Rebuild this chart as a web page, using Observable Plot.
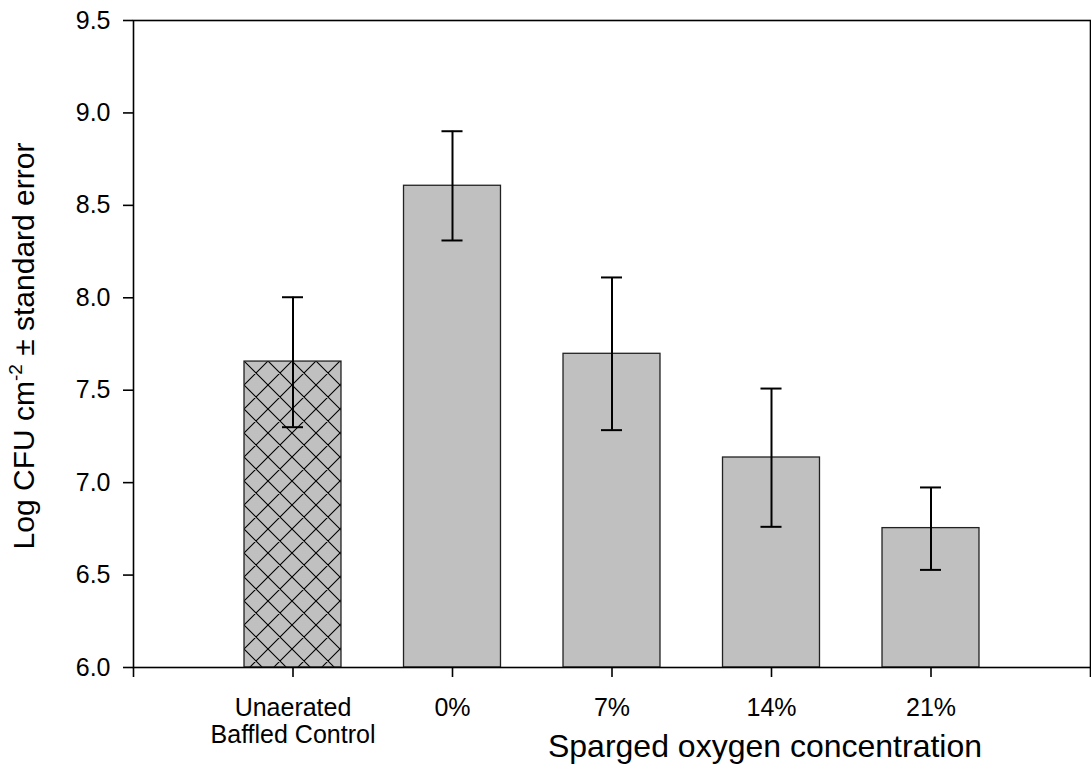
<!DOCTYPE html>
<html>
<head>
<meta charset="utf-8">
<script src="https://cdn.jsdelivr.net/npm/d3@7"></script>
<script src="https://cdn.jsdelivr.net/npm/@observablehq/plot@0.6"></script>
<style>
  html, body { margin: 0; padding: 0; background: #fff; }
  #chart { width: 1091px; height: 771px; }
</style>
</head>
<body>
<div id="chart"></div>
<script>
// ---- data ----
const categories = ["Unaerated\nBaffled Control", "0%", "7%", "14%", "21%"];
const means = [7.655, 8.606, 7.697, 7.136, 6.754];
const upper = [8.003, 8.901, 8.110, 7.509, 6.974];
const lower = [7.300, 8.310, 7.284, 6.761, 6.528];
const hatched = [true, false, false, false, false];
const yTicks = [6.0, 6.5, 7.0, 7.5, 8.0, 8.5, 9.0, 9.5];

const data = categories.map((c, i) => ({
  pos: i + 1, cat: c, mean: means[i], hi: upper[i], lo: lower[i], hatch: hatched[i]
}));

const halfBar = 0.304;
const halfCap = 0.066;

const plot = Plot.plot({
  width: 1091,
  height: 771,
  marginLeft: 133,
  marginRight: 1,
  marginTop: 20,
  marginBottom: 104,
  style: { fontFamily: "'Liberation Sans', Arial, sans-serif", background: "#fff", color: "#000" },
  x: { type: "linear", domain: [0, 6] },
  y: { domain: [6, 9.5] },
  marks: [
    Plot.rectY(data, {
      x1: d => d.pos - halfBar, x2: d => d.pos + halfBar,
      y1: () => 6, y2: "mean",
      fill: d => d.hatch ? "url(#xhatch)" : "#c0c0c0",
      stroke: "#222", strokeWidth: 1.3
    }),
    Plot.ruleX(data, { x: "pos", y1: "lo", y2: "hi", stroke: "#000", strokeWidth: 2 }),
    Plot.ruleY(data, { y: "hi", x1: d => d.pos - halfCap, x2: d => d.pos + halfCap, stroke: "#000", strokeWidth: 2 }),
    Plot.ruleY(data, { y: "lo", x1: d => d.pos - halfCap, x2: d => d.pos + halfCap, stroke: "#000", strokeWidth: 2 }),
    Plot.frame({ stroke: "#000", strokeWidth: 1.6 }),
    Plot.axisY({
      ticks: yTicks, tickFormat: d3.format(".1f"), tickSize: 10, tickPadding: 13,
      fontSize: 25, label: null, strokeWidth: 1.6
    }),
    Plot.axisX({
      ticks: [0, 1, 2, 3, 4, 5, 6],
      tickFormat: d => (d >= 1 && d <= 5) ? categories[d - 1] : "",
      tickSize: 10, tickPadding: 19, fontSize: 25, lineHeight: 1.08,
      label: null, strokeWidth: 1.6
    }),
    Plot.text(["Sparged oxygen concentration"], {
      frameAnchor: "bottom", lineAnchor: "bottom", dy: 89, dx: 153,
      fontSize: 32, fill: "#000"
    })
  ]
});

document.getElementById("chart").appendChild(plot);

// hatch pattern for the control bar
const svg = d3.select(plot);
const defs = svg.insert("defs", ":first-child");
const pat = defs.append("pattern")
  .attr("id", "xhatch")
  .attr("patternUnits", "userSpaceOnUse")
  .attr("width", 24).attr("height", 24)
  .attr("x", 244).attr("y", 361);
pat.append("rect").attr("width", 24).attr("height", 24).attr("fill", "#c0c0c0");
pat.append("path")
  .attr("d", "M-2,-2L26,26M26,-2L-2,26M-14,10L2,26M22,-2L38,14M10,-14L26,2M-2,22L14,38M-14,14L2,-2M22,26L38,10M10,38L26,22M-2,2L14,-14")
  .attr("stroke", "#000").attr("stroke-width", 1.1).attr("fill", "none");

// y-axis title with superscript
const yt = svg.append("text")
  .attr("transform", "translate(34,346) rotate(-90)")
  .attr("text-anchor", "middle")
  .attr("font-family", "'Liberation Sans', Arial, sans-serif")
  .attr("font-size", 30)
  .attr("fill", "#000");
yt.append("tspan").text("Log CFU cm");
yt.append("tspan").attr("font-size", 19).attr("dy", -12).text("-2");
yt.append("tspan").attr("dy", 12).text(" \u00B1 standard error");
</script>
</body>
</html>
